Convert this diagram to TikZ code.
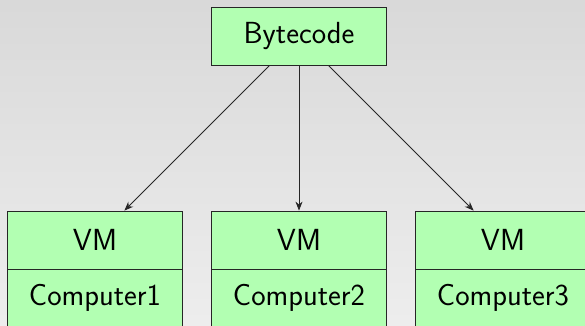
\documentclass[tikz,border=0pt]{standalone}
\usetikzlibrary{arrows.meta}
\renewcommand{\familydefault}{\sfdefault}
\tikzset{
  box/.style={draw=black!85, line width=0.8pt, fill=green!30, minimum width=175pt, minimum height=58pt, inner sep=0pt, font=\fontsize{30.5}{36}\selectfont},
  conn/.style={draw=black!85, line width=0.8pt, -{Stealth[length=9pt,width=7pt]}}
}
\begin{document}
\begin{tikzpicture}[x=1pt,y=1pt]
\useasboundingbox (0,0) rectangle (585,-325);
\clip (0,0) rectangle (585,-325);
\shade[top color=black!15, bottom color=black!7] (0,0) rectangle (585,-325);
\node[box] (bc) at (299,-36) {Bytecode};
\node[box] (vm1) at (95,-240) {VM};
\node[box] (c1) at (95,-298) {Computer1};
\node[box] (vm2) at (299,-240) {VM};
\node[box] (c2) at (299,-298) {Computer2};
\node[box] (vm3) at (503,-240) {VM};
\node[box] (c3) at (503,-298) {Computer3};
\draw[conn] (bc) -- (vm1);
\draw[conn] (bc) -- (vm2);
\draw[conn] (bc) -- (vm3);
\end{tikzpicture}
\end{document}
